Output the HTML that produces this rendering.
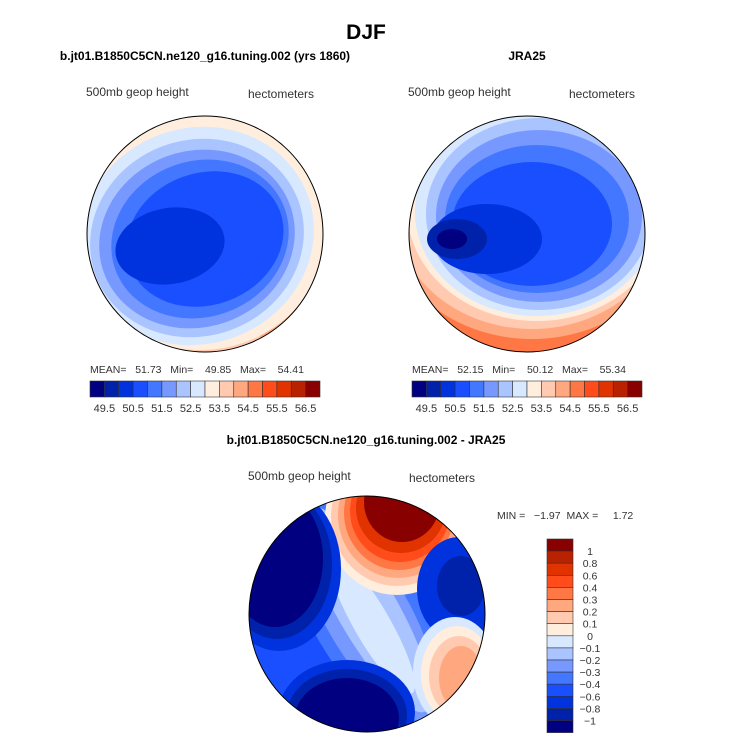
<!DOCTYPE html>
<html><head><meta charset="utf-8"><style>
html,body{margin:0;padding:0;background:#fff;}
svg{display:block;font-family:"Liberation Sans",sans-serif;}
.pre{white-space:pre;}
</style></head><body>
<svg id="fig" width="733" height="738" viewBox="0 0 733 738">
<text x="366" y="39" text-anchor="middle" font-size="21" font-weight="bold">DJF</text>
<text x="205" y="60" text-anchor="middle" font-size="12" font-weight="bold">b.jt01.B1850C5CN.ne120_g16.tuning.002 (yrs 1860)</text>
<text x="527" y="60" text-anchor="middle" font-size="12" font-weight="bold">JRA25</text>
<text x="366" y="444" text-anchor="middle" font-size="12" font-weight="bold">b.jt01.B1850C5CN.ne120_g16.tuning.002 - JRA25</text>
<g font-size="12" fill="#333">
<text x="86" y="96">500mb geop height</text>
<text x="248" y="98">hectometers</text>
<text x="408" y="96">500mb geop height</text>
<text x="569" y="98">hectometers</text>
<text x="248" y="480">500mb geop height</text>
<text x="409" y="482">hectometers</text>
</g>
<g font-size="10.5" fill="#333">
<text class="pre" x="90" y="373">MEAN=   51.73   Min=    49.85   Max=    54.41</text>
<text class="pre" x="412" y="373">MEAN=   52.15   Min=    50.12   Max=    55.34</text>
<text class="pre" x="497" y="519">MIN =   −1.97  MAX =     1.72</text>
</g>
<g id="maps"></g>
<g id="bars"></g>
</svg>
<script>
const colors=["#000080","#0022aa","#0033dd","#1a4fff","#4477ff","#7799ff","#aac4ff","#d8e8ff","#ffeedd","#ffcab0","#ffa880","#ff7744","#ff4c1a","#e03300","#b82200","#880000"];
const fieldTicks=["49.5","50.5","51.5","52.5","53.5","54.5","55.5","56.5"];
const diffTicks=["1","0.8","0.6","0.4","0.3","0.2","0.1","0","−0.1","−0.2","−0.3","−0.4","−0.6","−0.8","−1"];
// blobs: [colorIndex, dx, dy, rx, ry, rotationDeg] relative to map centre (r=118)
const leftBlobs=[[10,105,100,50,70,0],[8,-5,-2,126,118,0],[7,-8,2,118,108,-20],[6,-8,4,108,98,-20],[5,-8,5,99,88,-20],[4,-5,5,90,78,-20],[3,0,5,80,66,-20],[2,-35,12,55,38,-10]];
const rightBlobs=[[10,5,-25,150,130,0],[9,5,-25,138,120,0],[8,10,-25,130,112,0],[7,10,-22,122,104,0],[6,12,-20,113,96,0],[5,12,-18,103,86,0],[4,10,-15,92,74,0],[3,5,-10,80,62,0],[2,-40,5,55,35,0],[1,-70,5,30,20,0],[0,-75,5,15,10,0]];
const diffBlobs=[[4,0,0,55,125,-30],[5,0,0,42,120,-30],[6,0,-5,30,118,-30],[7,5,10,18,80,-30],
[8,30,-95,72,76,0],[9,30,-97,66,69,0],[10,31,-99,60,63,0],[11,32,-101,55,57,0],[12,33,-103,50,51,0],[13,34,-106,45,45,0],[15,35,-112,38,40,0],
[2,-88,-45,62,82,0],[1,-90,-50,55,75,0],[0,-92,-55,48,68,0],
[2,-20,98,68,52,0],[1,-20,101,60,46,0],[0,-20,104,52,40,0],
[2,92,-25,42,52,0],[1,94,-28,24,30,0],
[7,88,58,42,55,0],[8,90,60,36,48,0],[9,92,62,30,40,0],[10,94,64,22,32,0]];
const maps=[{cx:205,cy:234,base:9,blobs:leftBlobs,name:'left-map'},{cx:527,cy:234,base:11,blobs:rightBlobs,name:'right-map'},{cx:367,cy:614,base:3,blobs:diffBlobs,name:'diff-map'}];
const NS="http://www.w3.org/2000/svg";
const R=118;
function mk(t,a,p){const e=document.createElementNS(NS,t);for(const k in a)e.setAttribute(k,a[k]);p.appendChild(e);return e;}
const mg=document.getElementById('maps');
const defs=mk('defs',{},mg);
maps.forEach((m,i)=>{
  const cp=mk('clipPath',{id:'cp'+i},defs);mk('circle',{cx:m.cx,cy:m.cy,r:R},cp);
  const g=mk('g',{'clip-path':'url(#cp'+i+')'},mg);
  
  
  mk('rect',{x:m.cx-R,y:m.cy-R,width:2*R,height:2*R,fill:colors[m.base]},g);
  m.blobs.forEach(b=>{
    const x=m.cx+b[1],y=m.cy+b[2];
    const e=mk('ellipse',{cx:x,cy:y,rx:b[3],ry:b[4],fill:colors[b[0]],transform:'rotate('+b[5]+' '+x+' '+y+')'},g);
    
    
  });
  const o=mk('circle',{cx:m.cx,cy:m.cy,r:R,fill:'none',stroke:'#000','stroke-width':1},mg);
  
  
});
const bg=document.getElementById('bars');
[[90,'left-colorbar'],[412,'right-colorbar']].forEach(([x0,nm])=>{
  const g=mk('g',{},bg);
  
  
  const w=230/16;
  colors.forEach((c,j)=>{mk('rect',{x:x0+j*w,y:381,width:w,height:16,fill:c,stroke:'#333','stroke-width':0.6},g);});
  fieldTicks.forEach((t,j)=>{
    const tx=mk('text',{x:x0+(2*j+1)*w,y:412,'text-anchor':'middle','font-size':11,fill:'#333'},g);
    tx.textContent=t;
    
    
  });
});
const dg=mk('g',{},bg);


const h=12.1;
colors.slice().reverse().forEach((c,j)=>{mk('rect',{x:547,y:539+j*h,width:26,height:h,fill:c,stroke:'#333','stroke-width':0.6},dg);});
diffTicks.forEach((t,j)=>{
  const tx=mk('text',{x:590,y:539+(j+1)*h+4,'text-anchor':'middle','font-size':10.5,fill:'#333'},dg);
  tx.textContent=t;
  
  
});
</script>
</body></html>
